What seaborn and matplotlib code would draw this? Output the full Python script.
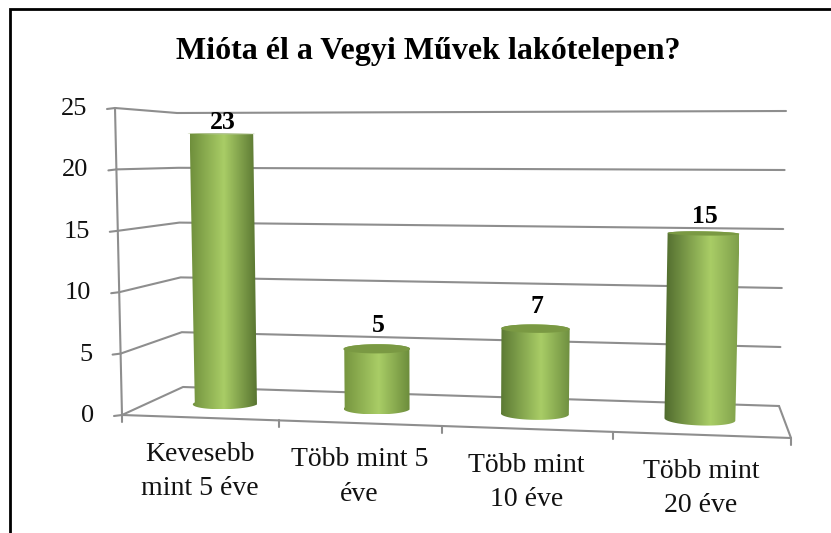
import numpy as np
import matplotlib
matplotlib.use('Agg')
import matplotlib.pyplot as plt
from matplotlib.colors import LinearSegmentedColormap
from matplotlib.patches import PathPatch, Polygon
from matplotlib.path import Path
import seaborn as sns

title = 'Mióta él a Vegyi Művek lakótelepen?'
categories = ['Kevesebb\nmint 5 éve', 'Több mint 5\néve', 'Több mint\n10 éve', 'Több mint\n20 éve']
values = [23, 5, 7, 15]
y_ticks = [0, 5, 10, 15, 20, 25]

# highlight position and edge colours of each cylinder
highlights = [0.50, 0.52, 0.58, 0.62]
left_edges = ['#6f8f3c', '#76953f', '#5c7a34', '#4f6a2d']
right_edges = ['#56722f', '#6a8a3a', '#6f8f40', '#7f9f4a']
light_green = '#a9cd66'
top_green = '#7a9943'
grid_gray = '#8e8e8e'

# pixel positions of the chart box: (u, v, d) -> u in 0..1, v in 0..1, d in 0..1
box = {
    (0, 0, 0): (122, 415), (0, 1, 0): (115, 108),
    (0, 0, 1): (183, 387), (0, 1, 1): (177, 113),
    (1, 0, 0): (791, 438), (1, 1, 0): (800, 108),
    (1, 0, 1): (779, 406), (1, 1, 1): (786, 111),
}
v_max = 25
n_cat = 4


def project(u, v, d):
    # perspective along the category axis, then trilinear in the box
    s = 0.2292 * u / (1 - 0.0208 * u)
    t = v / v_max
    x, y = 0.0, 0.0
    for (a, b, c), (px, py) in box.items():
        w = (s if a else 1 - s) * (t if b else 1 - t) * (d if c else 1 - d)
        x += w * px
        y += w * py
    return x, y


sns.set_theme(style='white')
plt.rcParams['font.family'] = ['Liberation Serif', 'DejaVu Serif']

fig = plt.figure(figsize=(8.31, 5.33), dpi=100)
ax = fig.add_axes([0, 0, 1, 1])

# seaborn works out the bars, they get redrawn as cylinders below
sns.barplot(x=list(range(n_cat)), y=values, width=0.42, ax=ax)
bars = [(p.get_x() + p.get_width() / 2, p.get_width() / 2, p.get_height()) for p in ax.patches]
for p in ax.patches:
    p.set_visible(False)

ax.set_xlim(0, 831)
ax.set_ylim(533, 0)
ax.set_axis_off()

# outer frame
ax.plot([9.5, 9.5, 831], [533, 9, 9], color='black', lw=2, solid_joinstyle='miter', zorder=5)


def line(points, **kw):
    xs, ys = zip(*points)
    ax.plot(xs, ys, color=grid_gray, lw=1.5, zorder=1, solid_capstyle='round', **kw)


# walls and gridlines
for v in y_ticks:
    line([project(0, v, 0), project(0, v, 1), project(n_cat, v, 1)])
    fx, fy = project(0, v, 0)
    line([(fx - 8, fy + 1), (fx, fy)])
    ax.text(fx - 28, fy + 1, str(v), ha='right', va='center', fontsize=19, color='#111111')

line([project(0, 0, 0), project(0, v_max, 0)])
line([project(0, 0, 0), project(n_cat, 0, 0), project(n_cat, 0, 1)])
for u in range(n_cat + 1):
    fx, fy = project(u, 0, 0)
    line([(fx, fy), (fx, fy + 7)])

# category labels
for u, label in enumerate(categories):
    fx, fy = project(u + 0.5, 0, 0)
    ax.text(fx, fy + 24, label, ha='center', va='top', fontsize=20, color='#111111', linespacing=1.5)

# cylinders
depth_r = 0.2
for i, (x, r, v) in enumerate(bars):
    u0 = x + 0.5
    theta = np.linspace(0, 2 * np.pi, 121)
    top = [project(u0 + r * np.cos(t), v, 0.5 + depth_r * np.sin(t)) for t in theta]
    # right side -> front of bottom circle -> left side -> back of top circle
    front = np.linspace(0, -np.pi, 61)
    back = np.linspace(np.pi, 0, 61)
    outline = [project(u0 + r * np.cos(t), 0, 0.5 + depth_r * np.sin(t)) for t in front]
    outline += [project(u0 + r * np.cos(t), v, 0.5 + depth_r * np.sin(t)) for t in back]
    outline = np.array(outline)

    cmap = LinearSegmentedColormap.from_list(
        f'cyl{i}', [(0, left_edges[i]), (highlights[i], light_green), (1, right_edges[i])])
    xmin, xmax = outline[:, 0].min(), outline[:, 0].max()
    ymin, ymax = outline[:, 1].min(), outline[:, 1].max()
    img = ax.imshow(np.linspace(0, 1, 256)[None, :], cmap=cmap, extent=(xmin, xmax, ymax, ymin),
                    aspect='auto', zorder=2, interpolation='bilinear')
    clip = PathPatch(Path(np.vstack([outline, outline[0]]), closed=True), transform=ax.transData)
    img.set_clip_path(clip)
    ax.add_patch(Polygon(top, closed=True, facecolor=top_green, edgecolor='none', zorder=3))

    # value labels sit above the back of the top circle
    lx, ly = project(u0, v, 1)
    ax.text(project(u0, v, 0.5)[0] + 2, ly - 12, f'{v:.0f}', ha='center', va='center',
            fontsize=18.5, fontweight='bold', color='black', zorder=4)

ax.set_xlim(0, 831)
ax.set_ylim(533, 0)

ax.text(428, 52, title, ha='center', va='center', fontsize=23, fontweight='bold', color='black')

fig.savefig('out.png', dpi=100)
